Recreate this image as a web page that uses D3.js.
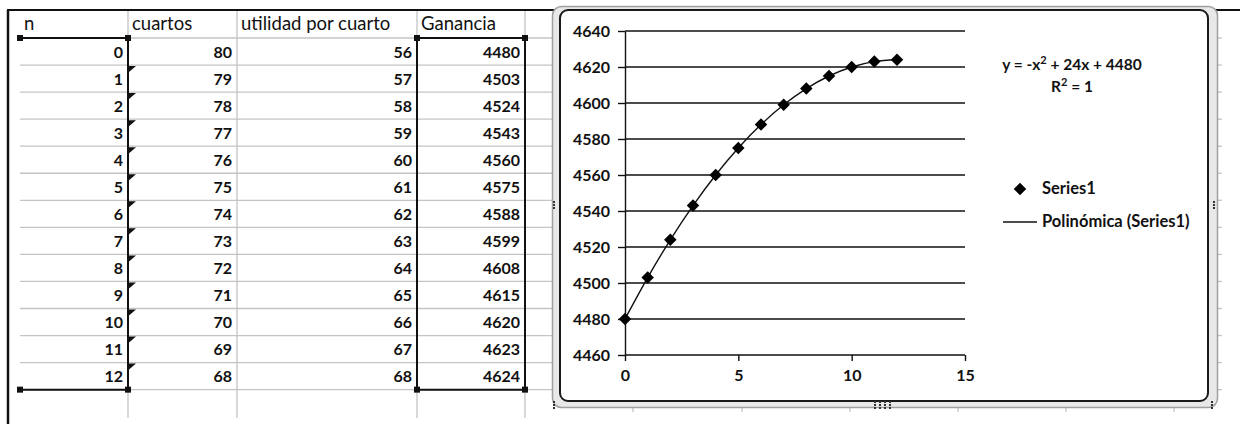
<!DOCTYPE html>
<html>
<head>
<meta charset="utf-8">
<script src="https://cdn.jsdelivr.net/npm/d3@7"></script>
<style>
  html, body { margin: 0; padding: 0; background: #fff; }
  svg { display: block; }
  text { font-family: Lato, "Open Sans", sans-serif; fill: #111; }
</style>
</head>
<body>
<svg id="chart" width="1240" height="424"></svg>
<script>
// ---------- data ----------
const headers = ["n", "cuartos", "utilidad por cuarto", "Ganancia"];
const nValues = [0, 1, 2, 3, 4, 5, 6, 7, 8, 9, 10, 11, 12];
const cuartos = [80, 79, 78, 77, 76, 75, 74, 73, 72, 71, 70, 69, 68];
const utilidad = [56, 57, 58, 59, 60, 61, 62, 63, 64, 65, 66, 67, 68];
const ganancia = [4480, 4503, 4524, 4543, 4560, 4575, 4588, 4599, 4608, 4615, 4620, 4623, 4624];
const xTicks = [0, 5, 10, 15];
const yTicks = [4460, 4480, 4500, 4520, 4540, 4560, 4580, 4600, 4620, 4640];
const seriesName = "Series1";
const trendName = "Polinómica (Series1)";
const equationParts = ["y = -x", "2", " + 24x + 4480"];
const r2Parts = ["R", "2", " = 1"];

// ---------- layout ----------
const svg = d3.select("#chart");
const colEdges = [20, 128, 237, 417, 525];
const sheetCols = [633, 742, 850, 958, 1066, 1174];
const headTop = 10, headBottom = 38, rowH = 27.05;
const nRows = nValues.length;
const tableBottom = headBottom + rowH * nRows;
const gridColor = "#c4c4c4";

// sheet gridlines (rows)
const rowLines = d3.range(1, nRows + 1).map(k => headBottom + rowH * k);
svg.append("g").selectAll("line").data([headBottom, ...rowLines]).join("line")
  .attr("x1", 20).attr("x2", 552).attr("y1", d => d).attr("y2", d => d)
  .attr("stroke", gridColor).attr("stroke-width", 1.3);
svg.append("g").selectAll("line").data([headBottom, ...rowLines]).join("line")
  .attr("x1", 1214).attr("x2", 1222).attr("y1", d => d).attr("y2", d => d)
  .attr("stroke", gridColor).attr("stroke-width", 1.3);
// sheet gridlines (columns)
svg.append("g").selectAll("line").data(colEdges.slice(1)).join("line")
  .attr("x1", d => d).attr("x2", d => d).attr("y1", headTop).attr("y2", 418)
  .attr("stroke", gridColor).attr("stroke-width", 1.3);
svg.append("g").selectAll("line").data(sheetCols).join("line")
  .attr("x1", d => d).attr("x2", d => d).attr("y1", 403).attr("y2", 412)
  .attr("stroke", gridColor).attr("stroke-width", 1.3);

// outer frame lines
svg.append("line").attr("x1", 7).attr("x2", 1240).attr("y1", 10).attr("y2", 10)
  .attr("stroke", "#111").attr("stroke-width", 2);
svg.append("line").attr("x1", 8).attr("x2", 8).attr("y1", 10).attr("y2", 424)
  .attr("stroke", "#111").attr("stroke-width", 2.5);

// headers
svg.append("g").selectAll("text").data(headers).join("text")
  .attr("x", (d, i) => colEdges[i] + 4)
  .attr("y", 30)
  .style("font-size", "18.5px")
  .text(d => d);

// table body
const columns = [nValues, cuartos, utilidad, ganancia];
columns.forEach((col, ci) => {
  svg.append("g").selectAll("text").data(col).join("text")
    .attr("x", colEdges[ci + 1] - 5)
    .attr("y", (d, i) => headBottom + rowH * i + 19.5)
    .attr("text-anchor", "end")
    .style("font-size", "16px").style("font-weight", "bold")
    .text(d => d);
});

// error-indicator triangles in "cuartos" column (rows 1..12)
svg.append("g").selectAll("path").data(nValues.slice(1)).join("path")
  .attr("d", (d, i) => {
    const y = headBottom + rowH * (i + 1) + 1;
    return `M129,${y}L136,${y}L129,${y + 6}Z`;
  })
  .attr("fill", "#111");

// selection borders
function selBorder(x0, x1, left) {
  const g = svg.append("g");
  const s = {stroke: "#111", w: 2};
  g.append("line").attr("x1", x0).attr("x2", x1).attr("y1", headBottom).attr("y2", headBottom)
    .attr("stroke", s.stroke).attr("stroke-width", s.w);
  g.append("line").attr("x1", x0).attr("x2", x1).attr("y1", tableBottom).attr("y2", tableBottom)
    .attr("stroke", s.stroke).attr("stroke-width", s.w);
  g.append("line").attr("x1", x1).attr("x2", x1).attr("y1", headBottom).attr("y2", tableBottom)
    .attr("stroke", s.stroke).attr("stroke-width", s.w);
  if (left) g.append("line").attr("x1", x0).attr("x2", x0).attr("y1", headBottom).attr("y2", tableBottom)
    .attr("stroke", s.stroke).attr("stroke-width", s.w);
  [[x0, headBottom], [x1, headBottom], [x0, tableBottom], [x1, tableBottom]].forEach(p => {
    g.append("rect").attr("x", p[0] - 3).attr("y", p[1] - 3).attr("width", 6).attr("height", 6).attr("fill", "#111");
  });
}
selBorder(20, 128, false);
selBorder(417, 525, true);

// ---------- chart object ----------
svg.append("rect").attr("x", 552.5).attr("y", 6.5).attr("width", 665).attr("height", 401).attr("rx", 9)
  .attr("fill", "#e8e8e8").attr("stroke", "#a0a0a0").attr("stroke-width", 1.5);
svg.append("rect").attr("x", 560).attr("y", 10).attr("width", 648).attr("height", 391).attr("rx", 8)
  .attr("fill", "#fff").attr("stroke", "#1a1a1a").attr("stroke-width", 2);
// handles (dotted)
const dots = [[554, 205], [1214, 205], [875, 405], [880, 405], [885, 405], [890, 405], [554, 405], [1212, 405]];
svg.append("g").selectAll("g").data(dots).join("g").each(function(p) {
  const g = d3.select(this);
  [[0, -3], [0, 0], [0, 3]].forEach(o => {
    g.append("rect").attr("x", p[0] + o[0] - 1).attr("y", p[1] + o[1] - 1).attr("width", 2).attr("height", 2).attr("fill", "#333");
  });
});

const x = d3.scaleLinear().domain([0, 15]).range([625, 965]);
const y = d3.scaleLinear().domain([4460, 4640]).range([355, 31]);

// gridlines
svg.append("g").selectAll("line").data(yTicks.slice(1)).join("line")
  .attr("x1", x(0)).attr("x2", x(15)).attr("y1", d => y(d)).attr("y2", d => y(d))
  .attr("stroke", "#111").attr("stroke-width", 1.4);

// axes
const yAxis = svg.append("g").attr("transform", `translate(${x(0)},0)`)
  .call(d3.axisLeft(y).tickValues(yTicks).tickFormat(d3.format("d")).tickSizeInner(7).tickSizeOuter(0).tickPadding(8));
const xAxis = svg.append("g").attr("transform", `translate(0,${y(4460)})`)
  .call(d3.axisBottom(x).tickValues(xTicks).tickFormat(d3.format("d")).tickSizeInner(6).tickSizeOuter(0).tickPadding(9));
[yAxis, xAxis].forEach(a => {
  a.select(".domain").attr("stroke", "#111").attr("stroke-width", 1.4);
  a.selectAll(".tick line").attr("stroke", "#111").attr("stroke-width", 1.4);
  a.selectAll(".tick text").style("font-family", "Lato, sans-serif").style("font-size", "16px")
    .style("font-weight", "bold").attr("fill", "#111");
});
xAxis.select(".domain").attr("d", `M${x(0)},0H${x(15)}`);

// trendline through data
const line = d3.line().x((d, i) => x(nValues[i])).y(d => y(d)).curve(d3.curveNatural);
svg.append("path").datum(ganancia).attr("d", line)
  .attr("fill", "none").attr("stroke", "#111").attr("stroke-width", 1.4);

// markers
const diamond = d3.symbol(d3.symbolSquare, 78);
svg.append("g").selectAll("path").data(ganancia).join("path")
  .attr("d", diamond)
  .attr("transform", (d, i) => `translate(${x(nValues[i])},${y(d)}) rotate(45)`)
  .attr("fill", "#000");

// equation label
function supText(parts, cx, cy) {
  const t = svg.append("text").attr("x", cx).attr("y", cy).attr("text-anchor", "middle")
    .style("font-size", "15.5px").style("font-weight", "bold");
  t.append("tspan").text(parts[0]);
  t.append("tspan").attr("dy", -6).style("font-size", "11px").text(parts[1]);
  t.append("tspan").attr("dy", 6).text(parts[2]);
}
supText(equationParts, 1072, 70);
supText(r2Parts, 1072, 92);

// legend
svg.append("path").attr("d", diamond).attr("transform", "translate(1020,189) rotate(45)").attr("fill", "#000");
svg.append("text").attr("x", 1042).attr("y", 194).style("font-size", "16.5px").style("font-weight", "bold").text(seriesName);
svg.append("line").attr("x1", 1003).attr("x2", 1037).attr("y1", 222).attr("y2", 222)
  .attr("stroke", "#111").attr("stroke-width", 1.4);
svg.append("text").attr("x", 1042).attr("y", 227).style("font-size", "16.5px").style("font-weight", "bold").text(trendName);
</script>
</body>
</html>
